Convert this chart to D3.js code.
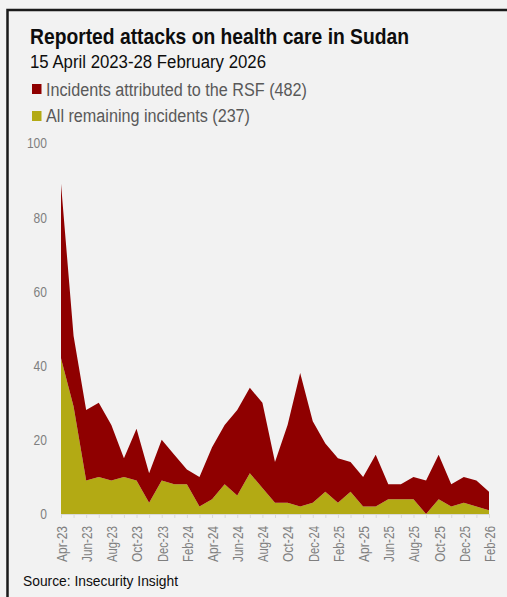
<!DOCTYPE html>
<html><head><meta charset="utf-8">
<script src="https://cdn.jsdelivr.net/npm/d3@7"></script>
<style>
html,body{margin:0;padding:0;background:#f2f2f2;}
svg{display:block;font-family:"Liberation Sans",Arial,sans-serif;}
</style></head>
<body>
<script>
const months = ["Apr-23","May-23","Jun-23","Jul-23","Aug-23","Sep-23","Oct-23","Nov-23","Dec-23",
"Jan-24","Feb-24","Mar-24","Apr-24","May-24","Jun-24","Jul-24","Aug-24","Sep-24","Oct-24","Nov-24","Dec-24",
"Jan-25","Feb-25","Mar-25","Apr-25","May-25","Jun-25","Jul-25","Aug-25","Sep-25","Oct-25","Nov-25","Dec-25",
"Jan-26","Feb-26"];
const rsf = [47,19,19,20,15,5,14,8,11,8,4,8,14,16,23,23,23,11,21,36,22,13,12,8,8,14,4,4,6,9,12,6,7,7,5];
const remaining = [42,29,9,10,9,10,9,3,9,8,8,2,4,8,5,11,7,3,3,2,3,6,3,6,2,2,4,4,4,0,4,2,3,2,1];
const yTicks = [0,20,40,60,80,100];
const xLabelEvery = 2;
const titleText = "Reported attacks on health care in Sudan";
const subtitleText = "15 April 2023-28 February 2026";
const legendRSF = "Incidents attributed to the RSF (482)";
const legendRem = "All remaining incidents (237)";
const sourceText = "Source: Insecurity Insight";

const W = 507, H = 597;
const cRSF = "#8f0000", cRem = "#b3aa14";
const svg = d3.select("body").append("svg").attr("width", W).attr("height", H);
svg.append("rect").attr("width", W).attr("height", H).attr("fill", "#f2f2f2");
// frame
svg.append("rect").attr("x", 7.5).attr("y", 10).attr("width", W + 20).attr("height", H + 20)
  .attr("fill", "none").attr("stroke", "#1a1a1a").attr("stroke-width", 2.5);

const x = d3.scaleLinear().domain([0, months.length - 1]).range([61, 489]);
const y = d3.scaleLinear().domain([0, 100]).range([514, 143]);

const data = months.map((m, i) => ({ i, m, remaining: remaining[i], rsf: rsf[i] }));
const series = d3.stack().keys(["remaining", "rsf"])(data);
const area = d3.area().x(d => x(d.data.i)).y0(d => y(d[0])).y1(d => y(d[1]));
svg.append("g").selectAll("path").data(series).join("path")
  .attr("d", area).attr("fill", (d, k) => k === 0 ? cRem : cRSF);

// y axis
const yAxis = d3.axisLeft(y).tickValues(yTicks).tickSize(0).tickPadding(0);
const gy = svg.append("g").attr("transform", "translate(47,0)").call(yAxis);
gy.select(".domain").remove();
gy.selectAll("text").attr("fill", "#7f7f7f").attr("font-size", 15)
  .attr("font-family", "'Liberation Sans',Arial,sans-serif")
  .attr("textLength", d => String(d).length * 6.7).attr("lengthAdjust", "spacingAndGlyphs");

// x axis
const xAxis = d3.axisBottom(x).tickValues(d3.range(months.length)).tickSize(4).tickFormat("");
const gx = svg.append("g").attr("transform", "translate(0,514)").call(xAxis);
gx.select(".domain").attr("stroke", "#d9d9d9");
gx.selectAll(".tick line").attr("stroke", "#d9d9d9");
const xl = svg.append("g");
xl.selectAll("text").data(data.filter(d => d.i % xLabelEvery === 0)).join("text")
  .attr("transform", d => `translate(${x(d.i) + 1},526) rotate(-90)`)
  .attr("text-anchor", "end").attr("dy", "0.35em")
  .attr("font-size", 14).attr("fill", "#7f7f7f")
  .attr("textLength", 36).attr("lengthAdjust", "spacingAndGlyphs")
  .text(d => d.m);

// titles
svg.append("text").attr("x", 30).attr("y", 44).attr("font-size", 22).attr("font-weight", "bold")
  .attr("fill", "#0d0d0d").attr("textLength", 379).attr("lengthAdjust", "spacingAndGlyphs").text(titleText);
svg.append("text").attr("x", 30).attr("y", 68).attr("font-size", 18)
  .attr("fill", "#0d0d0d").attr("textLength", 236).attr("lengthAdjust", "spacingAndGlyphs").text(subtitleText);

// legend
const leg = [[legendRSF, cRSF, 84, 96, 261], [legendRem, cRem, 111, 122, 204]];
leg.forEach(([t, c, sy, ty, tl]) => {
  svg.append("rect").attr("x", 32).attr("y", sy).attr("width", 9.5).attr("height", 10).attr("fill", c);
  svg.append("text").attr("x", 46).attr("y", ty).attr("font-size", 18).attr("fill", "#595959")
    .attr("textLength", tl).attr("lengthAdjust", "spacingAndGlyphs").text(t);
});

svg.append("text").attr("x", 23).attr("y", 586).attr("font-size", 15).attr("fill", "#0d0d0d")
  .attr("textLength", 155).attr("lengthAdjust", "spacingAndGlyphs").text(sourceText);
</script>
</body></html>
